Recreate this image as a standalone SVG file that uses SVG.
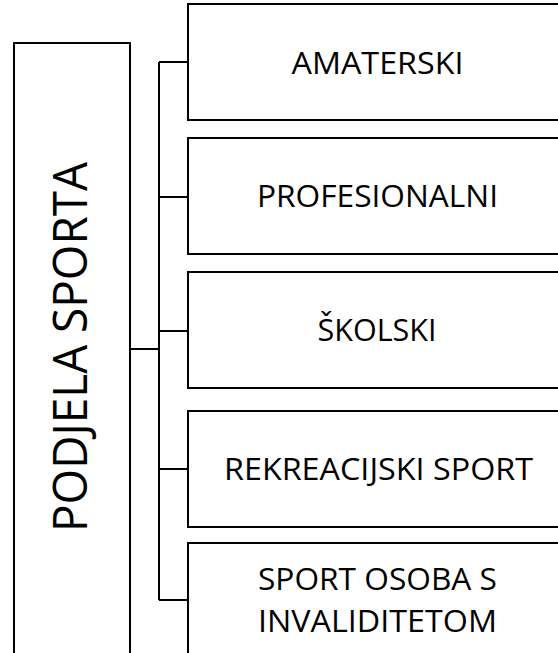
<svg xmlns="http://www.w3.org/2000/svg" width="558" height="653" viewBox="0 0 558 653">
<style>
.box{fill:#fff;stroke:#000;stroke-width:2}
.con{fill:none;stroke:#000;stroke-width:2}
.t{font-family:"Open Sans","Liberation Sans",Arial,sans-serif;font-size:31px;fill:#000;text-anchor:middle}
.big{font-size:48px}
</style>
<rect width="558" height="653" fill="#fff"/>
<g id="connectors">
<path class="con" d="M130,349 H159"/>
<path class="con" d="M159,62 V600"/>
<path class="con" d="M159,62 H188 M159,197 H188 M159,331 H188 M159,469 H188 M159,600 H188"/>
</g>
<g id="root">
<rect class="box" x="14" y="43" width="116" height="630"/>
<text class="t big" transform="translate(87,347) rotate(-90)" textLength="370" lengthAdjust="spacingAndGlyphs">PODJELA SPORTA</text>
</g>
<g id="n1">
<rect class="box" x="188" y="4" width="380" height="116"/>
<text class="t" x="377.5" y="74" textLength="172" lengthAdjust="spacingAndGlyphs">AMATERSKI</text>
</g>
<g id="n2">
<rect class="box" x="188" y="138" width="380" height="116"/>
<text class="t" x="377.5" y="207" textLength="241" lengthAdjust="spacingAndGlyphs">PROFESIONALNI</text>
</g>
<g id="n3">
<rect class="box" x="188" y="272" width="380" height="116"/>
<text class="t" x="377" y="341" textLength="119" lengthAdjust="spacingAndGlyphs">ŠKOLSKI</text>
</g>
<g id="n4">
<rect class="box" x="188" y="411" width="380" height="116"/>
<text class="t" x="378.5" y="480" textLength="309" lengthAdjust="spacingAndGlyphs">REKREACIJSKI SPORT</text>
</g>
<g id="n5">
<rect class="box" x="188" y="543" width="380" height="130"/>
<text class="t" x="377.5" y="590" textLength="239" lengthAdjust="spacingAndGlyphs">SPORT OSOBA S</text>
<text class="t" x="377.5" y="632" textLength="239" lengthAdjust="spacingAndGlyphs">INVALIDITETOM</text>
</g>
</svg>
